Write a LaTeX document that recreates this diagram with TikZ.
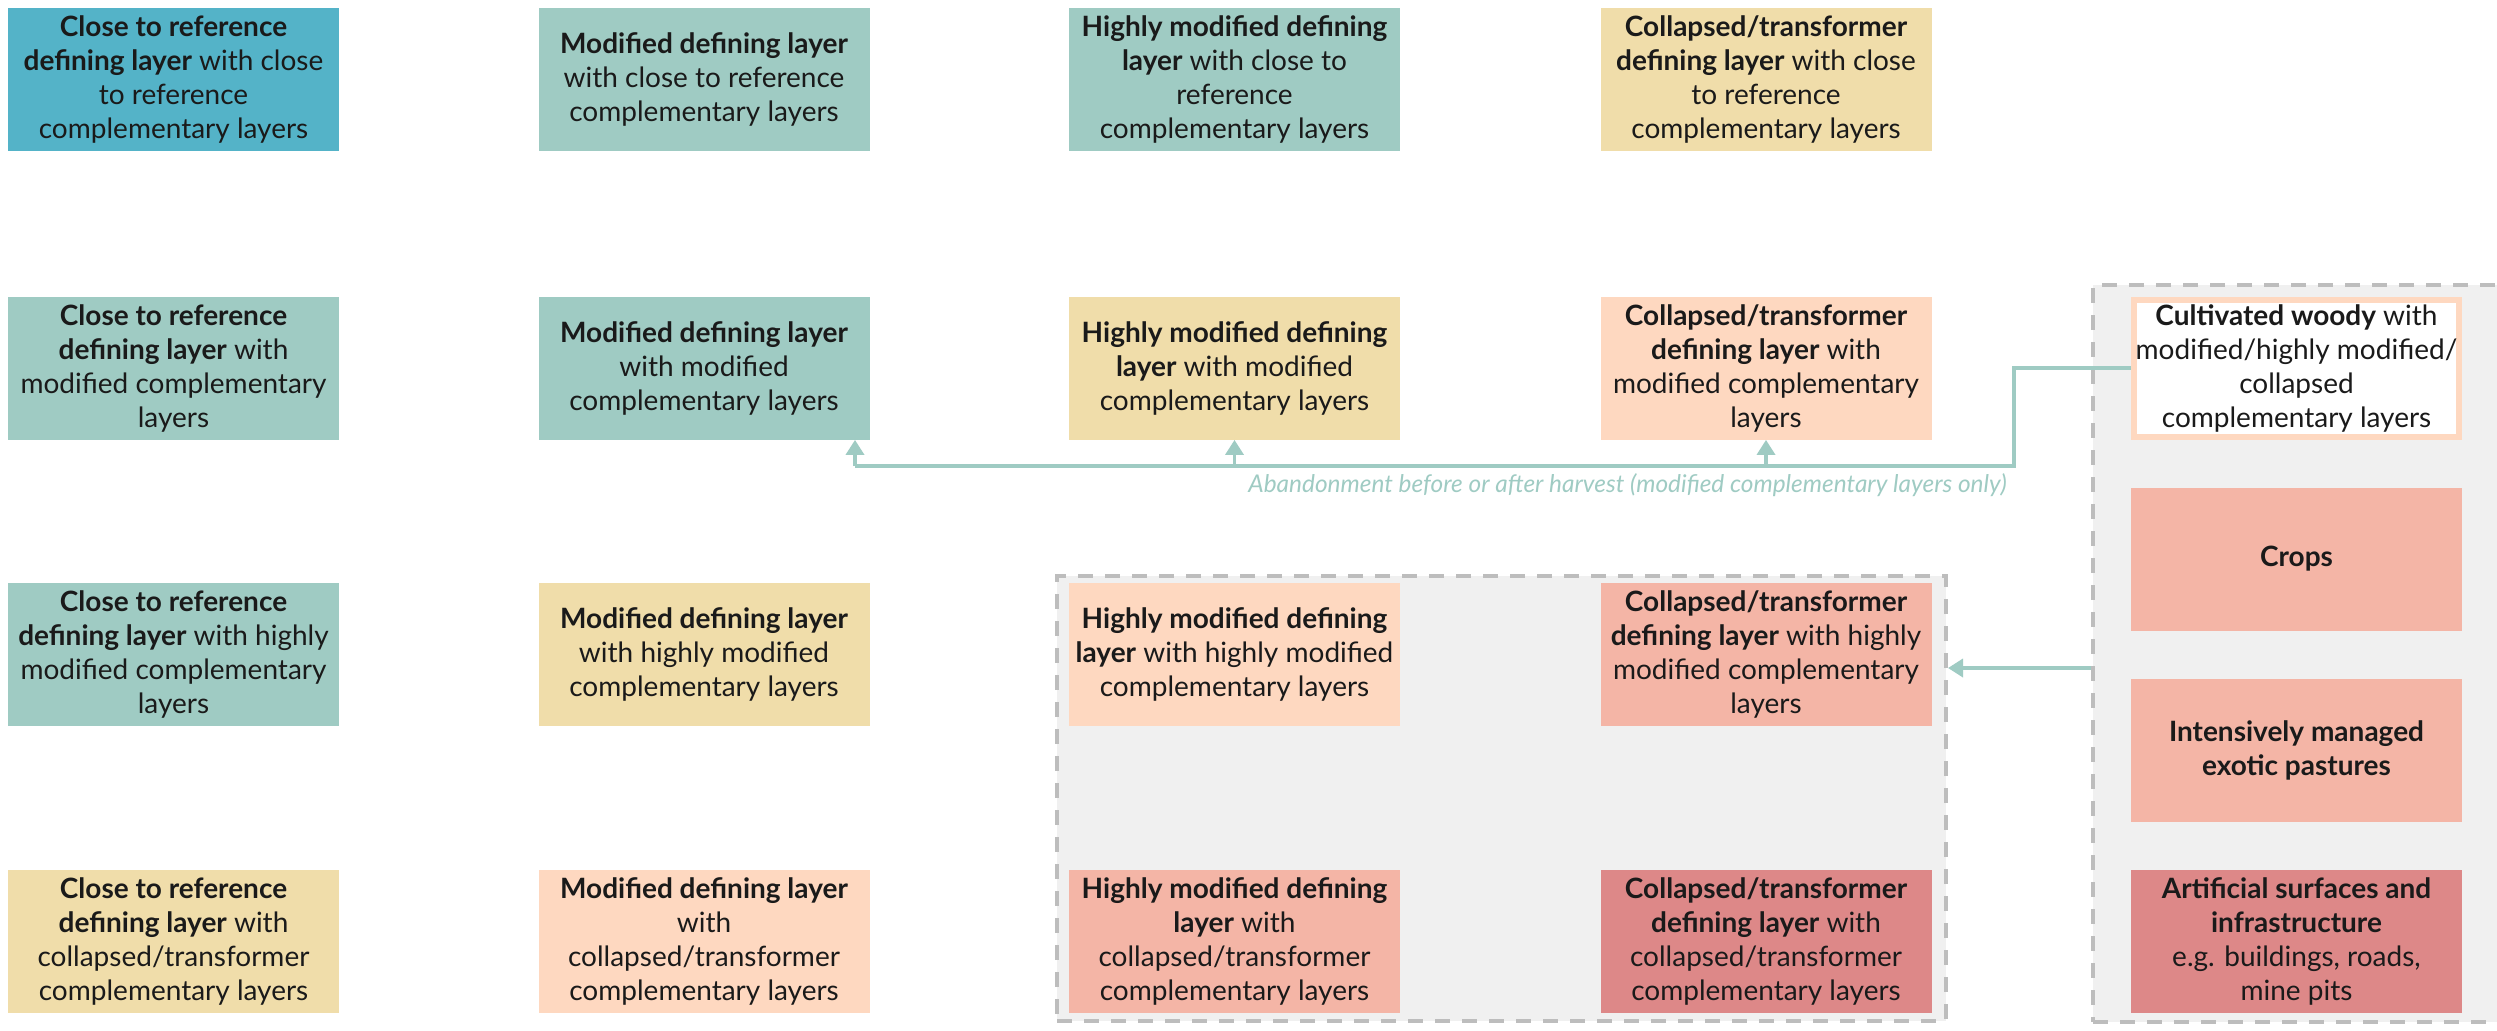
\documentclass[tikz,border=0pt]{standalone}
\usepackage{fontspec}
\setmainfont{Lato}
\usetikzlibrary{arrows.meta}
\definecolor{cblue}{HTML}{54B3C8}
\definecolor{cgreen}{HTML}{9FCBC3}
\definecolor{csand}{HTML}{F0DDAA}
\definecolor{cpeach}{HTML}{FED8C0}
\definecolor{csalmon}{HTML}{F4B5A6}
\definecolor{crose}{HTML}{DD8888}
\definecolor{cpanel}{HTML}{F0F0F0}
\definecolor{cdash}{HTML}{BDBDBD}
\definecolor{cline}{HTML}{9FCBC3}
\definecolor{ctext}{HTML}{1A1A1A}
\begin{document}
\begin{tikzpicture}[x=0.5pt,y=-0.5pt,
  box/.style={minimum width=165.5pt,minimum height=71.5pt,inner sep=0pt,align=center,
    text=ctext,font=\fontsize{14}{17}\selectfont},
  grp/.style={fill=cpanel,draw=cdash,line width=2pt,dash pattern=on 7.5pt off 6pt,inner sep=0pt},
  conn/.style={draw=cline,line width=1.75pt},
  arr/.style={conn,-{Triangle[length=7.5pt,width=9pt]}},
  lbl/.style={text=cline,font=\fontsize{12.2}{15}\selectfont\itshape,inner sep=0pt}]
\useasboundingbox (0,0) rectangle (2497,1030);
\clip (0,0) rectangle (2497,1030);
\fill[white] (0,0) rectangle (2497,1030);
% groups
\node[grp,minimum width=444.5pt,minimum height=222.5pt] (mg) at (1501.5,798.5) {};
\node[grp,minimum width=220pt,minimum height=368.5pt] (rg) at (2313,653.5) {};
% row 1
\node[box,fill=cblue] (r1c1) at (173.5,79.5) {\textbf{Close to reference}\\\textbf{defining layer} with close\\to reference\\complementary layers};
\node[box,fill=cgreen] (r1c2) at (704,79.5) {\textbf{Modified defining layer}\\with close to reference\\complementary layers};
\node[box,fill=cgreen] (r1c3) at (1234.5,79.5) {\textbf{Highly modified defining}\\\textbf{layer} with close to\\reference\\complementary layers};
\node[box,fill=csand] (r1c4) at (1766,79.5) {\textbf{Collapsed/transformer}\\\textbf{defining layer} with close\\to reference\\complementary layers};
% row 2
\node[box,fill=cgreen] (r2c1) at (173.5,368) {\textbf{Close to reference}\\\textbf{defining layer} with\\modified complementary\\layers};
\node[box,fill=cgreen] (r2c2) at (704,368) {\textbf{Modified defining layer}\\with modified\\complementary layers};
\node[box,fill=csand] (r2c3) at (1234.5,368) {\textbf{Highly modified defining}\\\textbf{layer} with modified\\complementary layers};
\node[box,fill=cpeach] (r2c4) at (1766,368) {\textbf{Collapsed/transformer}\\\textbf{defining layer} with\\modified complementary\\layers};
\node[box,fill=white,draw=cpeach,line width=3pt,minimum width=162.5pt,minimum height=68.5pt] (woody) at (2296.5,368) {\textbf{Cultivated woody} with\\modified/highly modified/\\collapsed\\complementary layers};
% row 3
\node[box,fill=cgreen] (r3c1) at (173.5,654.5) {\textbf{Close to reference}\\\textbf{defining layer} with highly\\modified complementary\\layers};
\node[box,fill=csand] (r3c2) at (704,654.5) {\textbf{Modified defining layer}\\with highly modified\\complementary layers};
\node[box,fill=cpeach] (r3c3) at (1234.5,654.5) {\textbf{Highly modified defining}\\\textbf{layer} with highly modified\\complementary layers};
\node[box,fill=csalmon] (r3c4) at (1766,654.5) {\textbf{Collapsed/transformer}\\\textbf{defining layer} with highly\\modified complementary\\layers};
\node[box,fill=csalmon] (crops) at (2296.5,559) {\textbf{Crops}};
\node[box,fill=csalmon] (intens) at (2296.5,750) {\textbf{Intensively managed}\\\textbf{exotic pastures}};
% row 4
\node[box,fill=csand] (r4c1) at (173.5,941.5) {\textbf{Close to reference}\\\textbf{defining layer} with\\collapsed/transformer\\complementary layers};
\node[box,fill=cpeach] (r4c2) at (704,941.5) {\textbf{Modified defining layer}\\with\\collapsed/transformer\\complementary layers};
\node[box,fill=csalmon] (r4c3) at (1234.5,941.5) {\textbf{Highly modified defining}\\\textbf{layer} with\\collapsed/transformer\\complementary layers};
\node[box,fill=crose] (r4c4) at (1766,941.5) {\textbf{Collapsed/transformer}\\\textbf{defining layer} with\\collapsed/transformer\\complementary layers};
\node[box,fill=crose] (art) at (2296.5,941.5) {\textbf{Artificial surfaces and}\\\textbf{infrastructure}\\e.g. buildings, roads,\\mine pits};
% connectors
\coordinate (j1) at (2014,466);
\coordinate (j0) at (855,466);
\draw[conn] (woody.west) -| (j1) -- (j0);
\draw[arr] (j0) -- (j0 |- r2c2.south);
\draw[arr] (r2c3.south |- j0) -- (r2c3.south);
\draw[arr] (r2c4.south |- j0) -- (r2c4.south);
\node[lbl,anchor=east] (ab) at (2007,485) {Abandonment before or after harvest (modified complementary layers only)};
\coordinate (a2) at (0,668);
\draw[arr] (rg.west |- a2) -- (mg.east |- a2);
\end{tikzpicture}
\end{document}
